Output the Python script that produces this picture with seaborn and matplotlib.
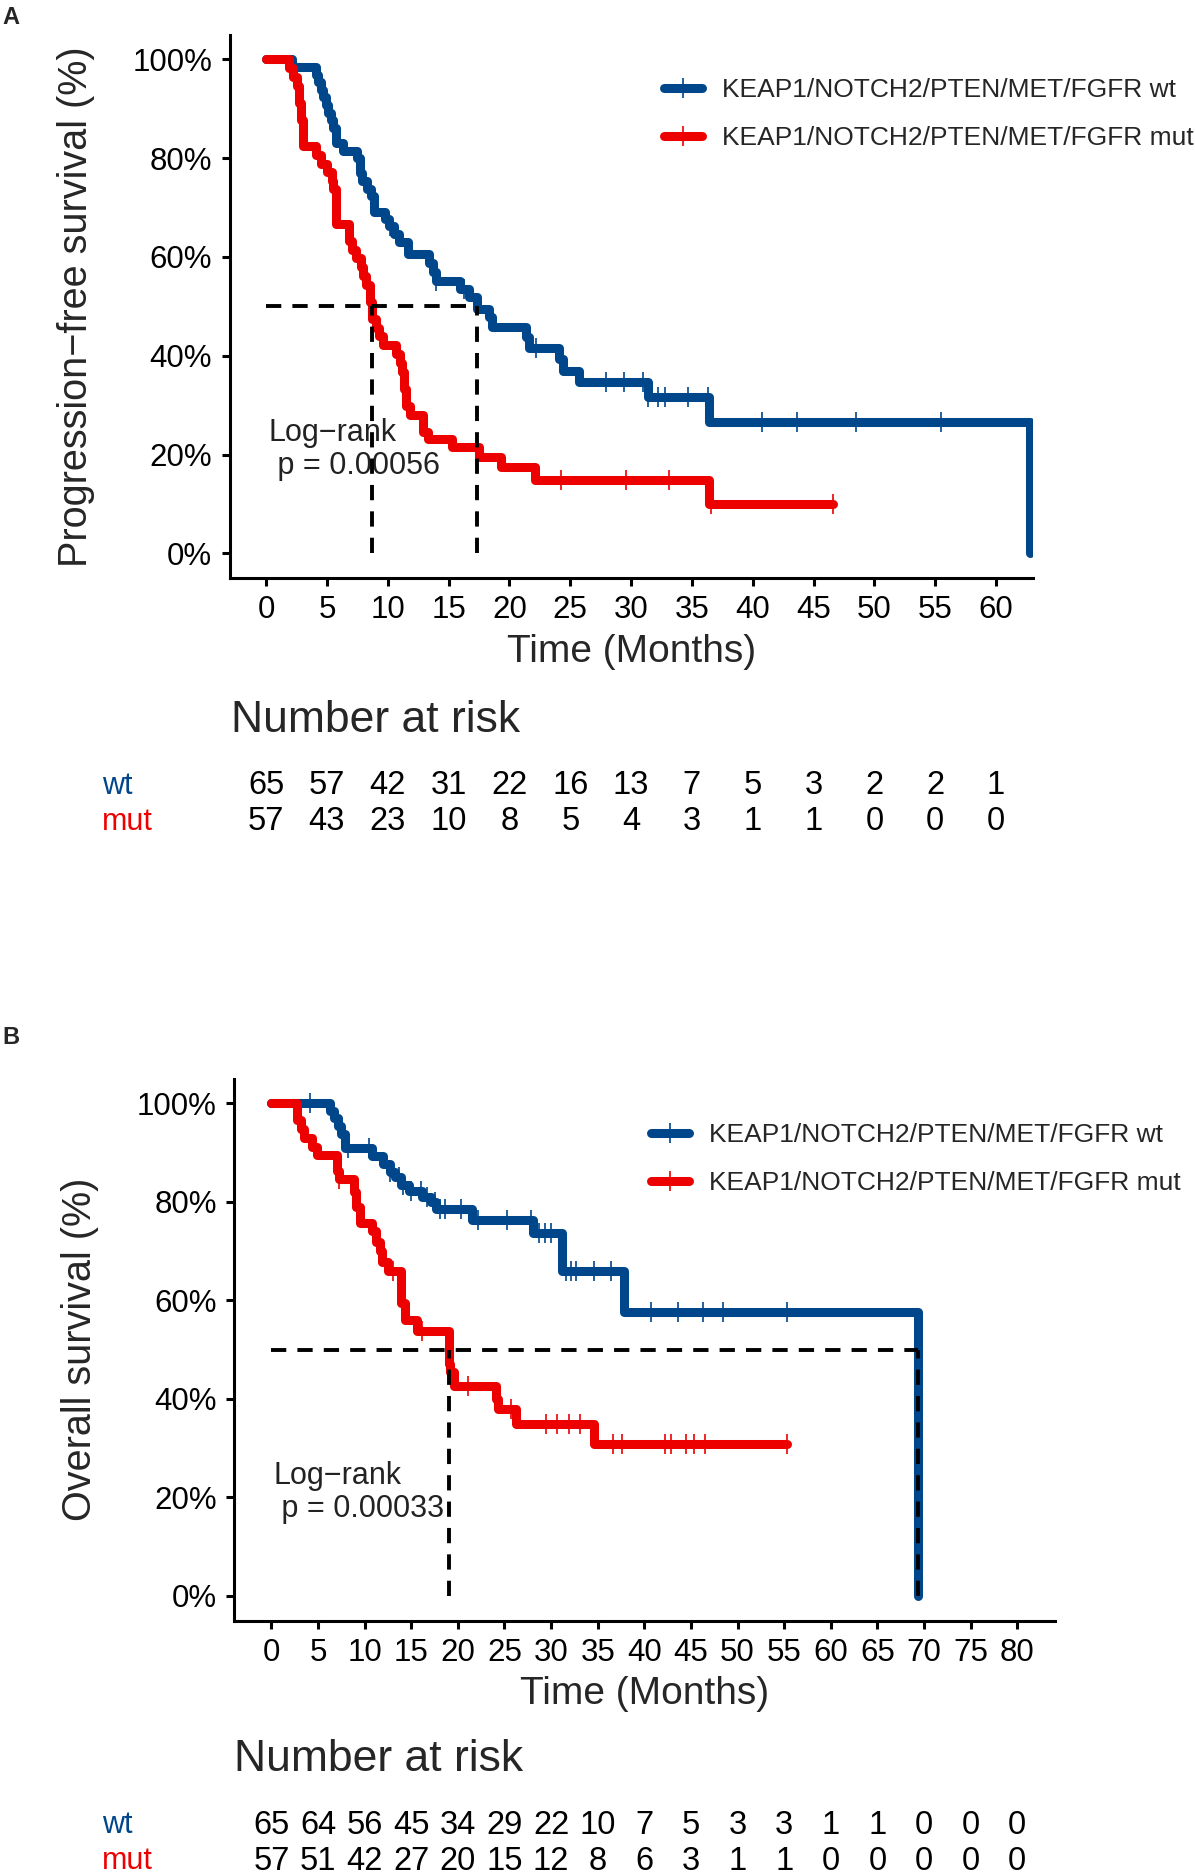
import numpy as np
import pandas as pd
import seaborn as sns
import matplotlib.pyplot as plt
from matplotlib.lines import Line2D
from matplotlib import transforms

# -------------------------------
# Data
# -------------------------------
groups = ["KEAP1/NOTCH2/PTEN/MET/FGFR wt", "KEAP1/NOTCH2/PTEN/MET/FGFR mut"]
risk_labels = ["wt", "mut"]
colors = ["#00468B", "#ED0000"]

# Panel A: progression-free survival (months, survival after each step)
pfs_wt_time = [0, 2.1, 4.1, 4.3, 4.5, 4.7, 4.9, 5.1, 5.3, 5.5, 5.75, 6.3, 7.5, 7.7, 7.9,
               8.3, 8.6, 8.9, 9.8, 10.1, 10.5, 10.9, 11.7, 13.4, 13.7, 14.0, 15.9, 16.7,
               17.3, 18.3, 18.6, 21.4, 21.6, 24.1, 24.4, 25.75, 31.4, 36.4, 62.75]
pfs_wt_surv = [1.0, 0.985, 0.969, 0.954, 0.938, 0.923, 0.908, 0.892, 0.877, 0.862, 0.831,
               0.815, 0.8, 0.769, 0.754, 0.738, 0.723, 0.692, 0.677, 0.662, 0.646, 0.631,
               0.606, 0.587, 0.569, 0.552, 0.535, 0.518, 0.495, 0.478, 0.459, 0.437, 0.415,
               0.394, 0.37, 0.346, 0.317, 0.265, 0.0]
pfs_wt_censor = [10.2, 14.0, 16.3, 22.2, 27.9, 29.4, 31.0, 31.4, 32.2, 32.8, 34.7, 36.3,
                 40.8, 43.6, 48.5, 55.5]

pfs_mut_time = [0, 1.9, 2.2, 2.5, 2.7, 2.85, 3.0, 4.1, 4.55, 5.0, 5.4, 5.5, 5.75, 6.85,
                7.1, 7.4, 7.8, 8.0, 8.2, 8.5, 8.7, 9.0, 9.3, 9.6, 10.7, 11.0, 11.2, 11.36,
                11.5, 11.8, 12.9, 13.3, 15.3, 17.5, 19.3, 22.1, 36.4, 46.6]
pfs_mut_surv = [1.0, 0.982, 0.965, 0.947, 0.912, 0.877, 0.825, 0.807, 0.789, 0.772, 0.754,
                0.737, 0.667, 0.632, 0.614, 0.597, 0.579, 0.561, 0.544, 0.509, 0.474, 0.456,
                0.439, 0.421, 0.403, 0.386, 0.368, 0.333, 0.298, 0.281, 0.246, 0.232, 0.215,
                0.195, 0.174, 0.148, 0.099, 0.099]
pfs_mut_censor = [24.2, 29.6, 33.1, 36.6, 46.6]

pfs_pval = "Log\u2212rank\n p = 0.00056"
pfs_risk_times = list(range(0, 61, 5))
pfs_risk_wt = [65, 57, 42, 31, 22, 16, 13, 7, 5, 3, 2, 2, 1]
pfs_risk_mut = [57, 43, 23, 10, 8, 5, 4, 3, 1, 1, 0, 0, 0]

# Panel B: overall survival
os_wt_time = [0, 6.3, 6.7, 7.1, 7.5, 7.9, 10.8, 12.0, 12.7, 13.3, 13.9, 14.8, 16.2, 17.1,
              17.7, 21.5, 28.1, 31.2, 37.8, 69.4]
os_wt_surv = [1.0, 0.985, 0.969, 0.954, 0.938, 0.908, 0.892, 0.877, 0.861, 0.85, 0.833,
              0.822, 0.81, 0.8, 0.786, 0.762, 0.736, 0.66, 0.577, 0.0]
os_wt_censor = [4.1, 8.2, 10.5, 12.7, 13.7, 14.1, 15.0, 16.0, 16.7, 17.5, 18.1, 18.6, 20.3,
                22.2, 25.3, 27.8, 28.7, 29.3, 30.0, 31.6, 32.1, 32.7, 34.6, 36.4, 40.7,
                43.6, 46.3, 48.4, 55.3]

os_mut_time = [0, 2.7, 3.2, 3.5, 4.4, 4.9, 7.0, 7.2, 8.9, 9.1, 9.5, 10.8, 11.2, 11.6, 11.9,
               12.5, 13.9, 14.3, 15.6, 19.0, 19.2, 19.6, 24.05, 24.3, 26.2, 34.6, 55.3]
os_mut_surv = [1.0, 0.965, 0.947, 0.93, 0.912, 0.895, 0.863, 0.846, 0.82, 0.79, 0.757, 0.74,
               0.718, 0.70, 0.678, 0.66, 0.595, 0.56, 0.537, 0.471, 0.454, 0.427, 0.40,
               0.379, 0.348, 0.308, 0.308]
os_mut_censor = [7.2, 13.0, 16.2, 21.1, 25.7, 29.5, 30.6, 31.9, 33.1, 36.6, 37.6, 42.2,
                 42.9, 44.5, 45.3, 46.5, 55.3]

os_pval = "Log\u2212rank\n p = 0.00033"
os_risk_times = list(range(0, 81, 5))
os_risk_wt = [65, 64, 56, 45, 34, 29, 22, 10, 7, 5, 3, 3, 1, 1, 0, 0, 0]
os_risk_mut = [57, 51, 42, 27, 20, 15, 12, 8, 6, 3, 1, 1, 0, 0, 0, 0, 0]

# -------------------------------
# Style
# -------------------------------
sns.set_theme(style="ticks")
plt.rcParams["font.family"] = ["Liberation Sans", "DejaVu Sans"]
plt.rcParams["lines.scale_dashes"] = False

W, H = 1195, 1876
fig = plt.figure(figsize=(W / 100, H / 100), dpi=100)


def fx(px):
    return px / W


def fy(py):
    return 1 - py / H


def surv_at(times, surv, t):
    idx = np.searchsorted(times, t, side="right") - 1
    return np.asarray(surv)[idx]


def draw_panel(ax, curves, censors, xmax, ylabel, pval, legend_pos):
    # curves
    frames = []
    for g, (t, s) in zip(groups, curves):
        frames.append(pd.DataFrame({"time": t, "surv": s, "group": g}))
    df = pd.concat(frames, ignore_index=True)
    sns.lineplot(data=df, x="time", y="surv", hue="group", hue_order=groups,
                 palette=colors, estimator=None, drawstyle="steps-post",
                 linewidth=6.5, legend=False, ax=ax)

    # censor marks
    cframes = []
    for g, (t, s), c in zip(groups, curves, censors):
        cframes.append(pd.DataFrame({"time": c, "surv": surv_at(t, s, c), "group": g}))
    cdf = pd.concat(cframes, ignore_index=True)
    for g, col in zip(groups, colors):
        sub = cdf[cdf["group"] == g]
        ax.plot(sub["time"], sub["surv"], linestyle="none", marker="|",
                markersize=14, markeredgewidth=1.2, color=col, zorder=4)

    # median lines
    medians = []
    for t, s in curves:
        s_arr = np.asarray(s)
        hit = np.where(s_arr <= 0.5)[0]
        medians.append(np.asarray(t)[hit[0]])
    ax.hlines(0.5, 0, max(medians), colors="black", linestyles=(0, (11, 8)), lw=2.8, zorder=5)
    ax.vlines(medians, 0, 0.5, colors="black", linestyles=(0, (11, 8)), lw=2.8, zorder=5)

    ax.text(0.2, 0.21, pval, ha="left", va="center", fontsize=22, linespacing=1.15,
            color="#222222")

    ax.set_xlim(-xmax * 0.05, xmax * 1.05)
    ax.set_ylim(-0.05, 1.05)
    ax.set_xticks(np.arange(0, xmax + 1, 5))
    ax.set_yticks(np.arange(0, 1.01, 0.2))
    ax.set_yticklabels([f"{int(round(v * 100))}%" for v in np.arange(0, 1.01, 0.2)])
    ax.tick_params(axis="both", labelsize=22.5, length=5.5, width=2.2, colors="black",
                   pad=7)
    ax.set_xlabel("Time (Months)", fontsize=28, labelpad=6)
    ax.set_ylabel(ylabel, fontsize=28.5, labelpad=27)
    for sp in ["left", "bottom"]:
        ax.spines[sp].set_linewidth(2.2)
        ax.spines[sp].set_color("black")
    sns.despine(ax=ax)

    handles = [Line2D([0], [0], color=c, lw=6.5, marker="|", markersize=14,
                      markeredgewidth=1.2) for c in colors]
    ax.legend(handles, groups, loc="center left",
              bbox_to_anchor=(fx(legend_pos[0]), fy(legend_pos[1])),
              bbox_transform=fig.transFigure, frameon=False, fontsize=19,
              borderpad=0, borderaxespad=0, handlelength=1.45, handletextpad=0.75,
              labelspacing=0.92, numpoints=1)
    return medians


def draw_risk(ax, times, wt, mut, title_x, title_y, row_ys):
    trans = transforms.blended_transform_factory(ax.transData, fig.transFigure)
    fig.text(fx(title_x), fy(title_y), "Number at risk", fontsize=32, ha="left",
             va="center")
    for lab, vals, col, ry in zip(risk_labels, [wt, mut], colors, row_ys):
        fig.text(fx(102), fy(ry), lab, color=col, fontsize=22, ha="left", va="center")
        for t, v in zip(times, vals):
            ax.text(t, fy(ry), str(v), transform=trans, fontsize=23.5, ha="center",
                    va="center", color="black")


# -------------------------------
# Panel A
# -------------------------------
axA = fig.add_axes([fx(229.6), fy(578), fx(1032.6) - fx(229.6), (578 - 34.7) / H])
draw_panel(axA,
           [(pfs_wt_time, pfs_wt_surv), (pfs_mut_time, pfs_mut_surv)],
           [pfs_wt_censor, pfs_mut_censor], 60,
           "Progression\u2212free survival (%)", pfs_pval, (664, 114))
draw_risk(axA, pfs_risk_times, pfs_risk_wt, pfs_risk_mut, 231, 720, [786, 822])
fig.text(fx(10.5), fy(17.4), "A", fontsize=17, fontweight="bold", ha="center", va="center")

# -------------------------------
# Panel B
# -------------------------------
axB = fig.add_axes([fx(234.1), fy(1620.6), fx(1054.6) - fx(234.1), (1620.6 - 1078.5) / H])
draw_panel(axB,
           [(os_wt_time, os_wt_surv), (os_mut_time, os_mut_surv)],
           [os_wt_censor, os_mut_censor], 80,
           "Overall survival (%)", os_pval, (651, 1159))
draw_risk(axB, os_risk_times, os_risk_wt, os_risk_mut, 234, 1759, [1825, 1861])
fig.text(fx(11), fy(1037.8), "B", fontsize=17, fontweight="bold", ha="center", va="center")

fig.savefig("out.png", dpi=100, facecolor="white")
